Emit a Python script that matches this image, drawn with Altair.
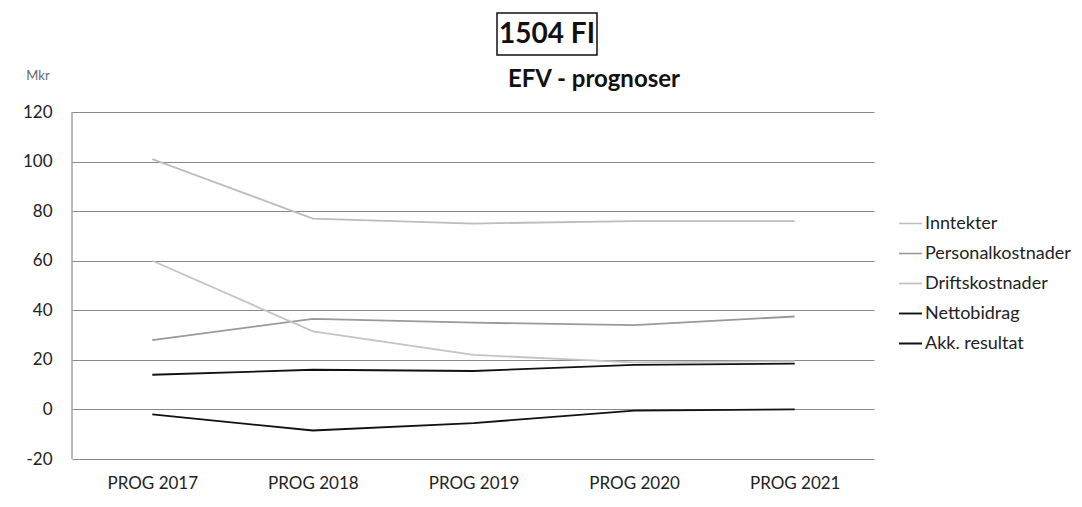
import altair as alt
import pandas as pd

categories = ["PROG 2017", "PROG 2018", "PROG 2019", "PROG 2020", "PROG 2021"]
series_names = ["Inntekter", "Personalkostnader", "Driftskostnader", "Nettobidrag", "Akk. resultat"]
inntekter = [101, 77, 75, 76, 76]
personal = [28, 36.5, 35, 34, 37.5]
drift = [60, 31.5, 22, 19, 19.5]
netto = [14, 16, 15.5, 18, 18.5]
akk = [-2, -8.5, -5.5, -0.5, 0]
colors = ["#bdbdbd", "#9a9a9a", "#c4c4c4", "#111111", "#111111"]
widths = [1.5, 2, 1.5, 2.4, 2.4]

rows = []
for name, vals in zip(series_names, [inntekter, personal, drift, netto, akk]):
    for c, v in zip(categories, vals):
        rows.append({"kategori": c, "serie": name, "verdi": v})
df = pd.DataFrame(rows)

FONT = "Lato"

lines = alt.Chart(df).mark_line(strokeWidth=1.8).encode(
    x=alt.X("kategori:N", sort=categories, title=None,
            scale=alt.Scale(paddingInner=0, paddingOuter=0.5),
            axis=alt.Axis(labelAngle=0, labelFontSize=17, labelColor="#222", labelFont=FONT,
                          labelPadding=16, ticks=False, domain=False, grid=False)),
    y=alt.Y("verdi:Q", title=None,
            scale=alt.Scale(domain=[-20, 120], nice=False),
            axis=alt.Axis(values=[-20, 0, 20, 40, 60, 80, 100, 120], labelFontSize=17,
                          labelFont=FONT, labelExpr="'' + datum.value",
                          labelColor="#222", labelPadding=20, ticks=False,
                          domain=False, gridColor="#888", gridWidth=1)),
    color=alt.Color("serie:N", sort=series_names,
                    scale=alt.Scale(domain=series_names, range=colors),
                    legend=alt.Legend(title=None, orient="none", legendX=826, legendY=99,
                                      symbolType="stroke", symbolSize=529, symbolStrokeWidth=2,
                                      labelFontSize=18, labelColor="#222", labelFont=FONT,
                                      rowPadding=8, symbolOffset=0, labelOffset=2)),
    strokeWidth=alt.StrokeWidth("serie:N", sort=series_names,
                                scale=alt.Scale(domain=series_names, range=widths),
                                legend=None),
)

deco_df = pd.DataFrame({"a": [0]})
axis_line = alt.Chart(deco_df).mark_rule(color="#777", strokeWidth=1).encode(
    x=alt.value(0), y=alt.value(0), y2=alt.value(347))
right_mask = alt.Chart(deco_df).mark_rule(color="white", strokeWidth=3).encode(
    x=alt.value(804), y=alt.value(-1), y2=alt.value(348))

title_df = pd.DataFrame({"t": ["1504 FI"]})
title_box = alt.Chart(title_df).mark_rect(fill="white", stroke="#111", strokeWidth=1.5).encode(
    x=alt.value(425), x2=alt.value(525), y=alt.value(-99), y2=alt.value(-57))
title_txt = alt.Chart(title_df).mark_text(fontSize=28, fontWeight="bold", font=FONT,
                                          color="#111", baseline="middle").encode(
    x=alt.value(475), y=alt.value(-77), text="t:N")
sub_df = pd.DataFrame({"t": ["EFV -  prognoser"]})
sub_txt = alt.Chart(sub_df).mark_text(fontSize=24, fontWeight="bold", font=FONT,
                                      color="#111", baseline="middle").encode(
    x=alt.value(522), y=alt.value(-32), text="t:N")
mkr_df = pd.DataFrame({"t": ["Mkr"]})
mkr_txt = alt.Chart(mkr_df).mark_text(fontSize=13, font=FONT, color="#666",
                                      baseline="middle").encode(
    x=alt.value(-34), y=alt.value(-36), text="t:N")

chart = alt.layer(lines, axis_line, right_mask, title_box, title_txt, sub_txt, mkr_txt).properties(
    width=803, height=347,
    background="white",
    autosize=alt.AutoSizeParams(type="none"),
    padding={"left": 64, "top": 104, "right": 199, "bottom": 40},
).configure_view(stroke=None)

chart.save("out.html", embed_options={"renderer": "svg", "actions": False})
